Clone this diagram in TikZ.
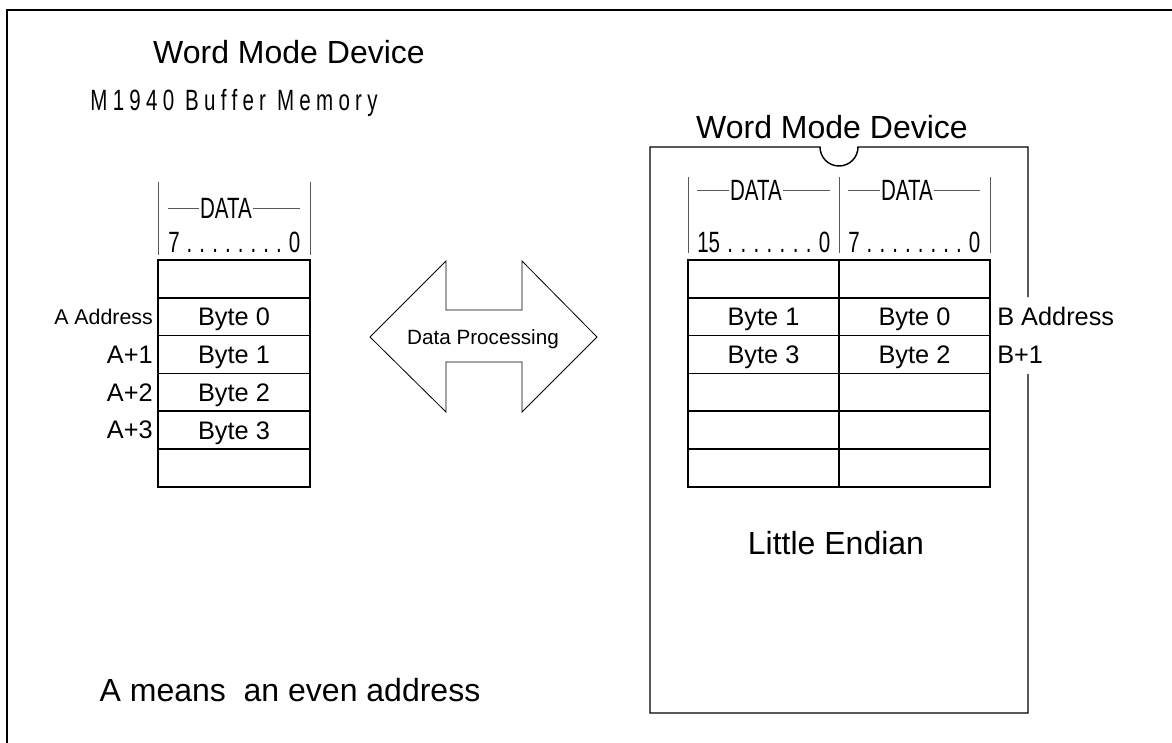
\documentclass[tikz,border=0pt]{standalone}
\usepackage{fontspec}
\setmainfont{Liberation Sans}
\newfontfamily\condfont[FakeStretch=0.7,LetterSpace=18]{Liberation Sans}
\newfontfamily\hdrfont[FakeStretch=0.7]{Liberation Sans}
\newcommand\spreadbox[2]{\makebox[#1][s]{#2}}
\begin{document}
\begin{tikzpicture}[x=0.75pt,y=-0.75pt,
  cell/.style={draw, line width=1.1pt, minimum width=114pt, minimum height=28.35pt, inner sep=0pt, outer sep=0pt, text height=13.7pt, text depth=0pt, font=\fontsize{19}{19}\selectfont},
  lbl/.style={inner sep=0pt, text depth=0pt, font=\fontsize{19}{19}\selectfont},
  big/.style={inner sep=0pt, font=\fontsize{24}{24}\selectfont},
  hdr/.style={inner sep=0.6pt, font=\hdrfont\fontsize{22}{22}\selectfont},
  rule/.style={line width=0.6pt, black!65}]
\useasboundingbox (0,0) rectangle (1172,743);
\draw[line width=1.5pt] (7,743) -- (7,10) -- (1172,10);
\node[big] (title) at (289,52){Word Mode Device};
\node[inner sep=0pt, font=\condfont\fontsize{22}{22}\selectfont] (bufname) at (234,103){M1940 Buffer Memory};
\draw[rule] (158,182) -- (158,255);
\draw[rule] (310,182) -- (310,255);
\node[hdr] (dataA) at (226,208){DATA};
\draw[rule] (168,208) -- (dataA.west);
\draw[rule] (dataA.east) -- (300,208);
\node[hdr, anchor=west, inner sep=0pt] (bitsA) at (168,242){\spreadbox{99pt}{7\hfil.\hfil.\hfil.\hfil.\hfil.\hfil.\hfil.\hfil.\hfil0}};
\node[cell] (buf0) at (234,278.9){};
\node[cell] (buf1) at (234,316.7){Byte 0};
\node[cell] (buf2) at (234,354.5){Byte 1};
\node[cell] (buf3) at (234,392.3){Byte 2};
\node[cell] (buf4) at (234,430.1){Byte 3};
\node[cell] (buf5) at (234,467.9){};
\node[lbl, anchor=east, font=\fontsize{16}{16}\selectfont] (adr0) at (153,316.7){A Address};
\node[lbl, anchor=east] (adr1) at (153,354.5){A+1};
\node[lbl, anchor=east] (adr2) at (153,392.3){A+2};
\node[lbl, anchor=east] (adr3) at (153,430.1){A+3};
\draw[line width=0.6pt] (370,337) -- (446,261) -- (446,310) -- (522,310) -- (522,261) -- (597,337) -- (522,412) -- (522,362) -- (446,362) -- (446,412) -- cycle;
\node[lbl, font=\fontsize{15.5}{15.5}\selectfont] (proc) at (483,337){Data Processing};
\node[big] (devname) at (832,127){Word Mode Device};
\draw[line width=1.1pt] (1028,297) -- (1028,147) -- (858,147) arc[start angle=0, end angle=-180, radius=14.25pt] -- (650,147) -- (650,713) -- (1028,713) -- (1028,374);
\draw[rule] (688,177) -- (688,253);
\draw[rule] (839,177) -- (839,253);
\draw[rule] (990,177) -- (990,253);
\node[hdr] (dataH) at (756,190){DATA};
\draw[rule] (697,190) -- (dataH.west);
\draw[rule] (dataH.east) -- (830,190);
\node[hdr] (dataL) at (907,190){DATA};
\draw[rule] (848,190) -- (dataL.west);
\draw[rule] (dataL.east) -- (980,190);
\node[hdr, anchor=west, inner sep=0pt] (bitsH) at (697,242){\spreadbox{99.75pt}{15\hfil.\hfil.\hfil.\hfil.\hfil.\hfil.\hfil.\hfil0}};
\node[hdr, anchor=west, inner sep=0pt] (bitsL) at (848,242){\spreadbox{99pt}{7\hfil.\hfil.\hfil.\hfil.\hfil.\hfil.\hfil.\hfil.\hfil0}};
\node[cell, minimum width=113.25pt] (hi0) at (763.5,278.9){};
\node[cell, minimum width=113.25pt] (hi1) at (763.5,316.7){Byte 1};
\node[cell, minimum width=113.25pt] (hi2) at (763.5,354.5){Byte 3};
\node[cell, minimum width=113.25pt] (hi3) at (763.5,392.3){};
\node[cell, minimum width=113.25pt] (hi4) at (763.5,430.1){};
\node[cell, minimum width=113.25pt] (hi5) at (763.5,467.9){};
\node[cell, minimum width=113.25pt] (lo0) at (914.5,278.9){};
\node[cell, minimum width=113.25pt] (lo1) at (914.5,316.7){Byte 0};
\node[cell, minimum width=113.25pt] (lo2) at (914.5,354.5){Byte 2};
\node[cell, minimum width=113.25pt] (lo3) at (914.5,392.3){};
\node[cell, minimum width=113.25pt] (lo4) at (914.5,430.1){};
\node[cell, minimum width=113.25pt] (lo5) at (914.5,467.9){};
\node[lbl, anchor=west] (adrB0) at (997,316.7){B Address};
\node[lbl, anchor=west] (adrB1) at (997,354.5){B+1};
\node[big] (endian) at (836,543){Little Endian};
\node[big] (note) at (290,690){A means\ \ an even address};
\end{tikzpicture}
\end{document}
